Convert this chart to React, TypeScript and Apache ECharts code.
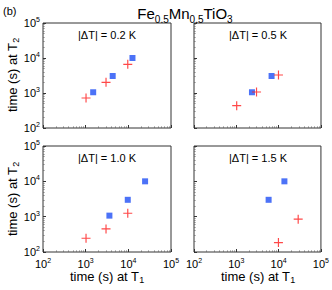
import React, { useEffect, useRef } from "react";
import * as echarts from "echarts";

const xMin = 100;
const xMax = 100000;
const panelLabels = ["|ΔT| = 0.2 K", "|ΔT| = 0.5 K", "|ΔT| = 1.0 K", "|ΔT| = 1.5 K"];

// panel 1 (|ΔT| = 0.2 K)
const p1BlueX = [1500, 4300, 12500];
const p1BlueY = [1050, 3060, 10000];
const p1RedX = [1020, 3000, 9700];
const p1RedY = [720, 2020, 6600];
// panel 2 (|ΔT| = 0.5 K)
const p2BlueX = [2340, 6800];
const p2BlueY = [1050, 3060];
const p2RedX = [1020, 3000, 9900];
const p2RedY = [435, 1070, 3260];
// panel 3 (|ΔT| = 1.0 K)
const p3BlueX = [3600, 9700, 24700];
const p3BlueY = [1070, 3000, 10000];
const p3RedX = [1020, 3000, 9700];
const p3RedY = [245, 450, 1250];
// panel 4 (|ΔT| = 1.5 K)
const p4BlueX = [5800, 13700];
const p4BlueY = [3000, 10000];
const p4RedX = [9900, 29000];
const p4RedY = [185, 850];

const blueX = [p1BlueX, p2BlueX, p3BlueX, p4BlueX];
const blueY = [p1BlueY, p2BlueY, p3BlueY, p4BlueY];
const redX = [p1RedX, p2RedX, p3RedX, p4RedX];
const redY = [p1RedY, p2RedY, p3RedY, p4RedY];

const FONT = "Liberation Sans, Arial, Helvetica, sans-serif";
const CROSS = "path://M4.35,0h1.3v4.35h4.35v1.3h-4.35v4.35h-1.3v-4.35h-4.35v-1.3h4.35z";

const zip = (xs: number[], ys: number[]) => xs.map((x, i) => [x, ys[i]]);

const expOf = (v: number) => Math.round(Math.log10(v));
const rich = {
  b: { fontSize: 11, fontFamily: FONT, color: "#000" },
  s: { fontSize: 7, fontFamily: FONT, color: "#000", padding: [0, 0, 7, 0] },
};

export default function App() {
  const ref = useRef<HTMLDivElement>(null);
  useEffect(() => {
    if (!ref.current) return;
    const chart = echarts.init(ref.current, null, { renderer: "svg" });
    const grids = [
      { left: 43, top: 23, width: 128, height: 105 },
      { left: 194, top: 23, width: 127, height: 105 },
      { left: 43, top: 146, width: 128, height: 106 },
      { left: 194, top: 146, width: 127, height: 106 },
    ].map((g) => ({ ...g, show: true, borderColor: "#333", borderWidth: 1, backgroundColor: "#fff" }));

    const mkAxis = (i: number, isX: boolean) => {
      const showLabel = isX ? i >= 2 : i % 2 === 0;
      return {
        type: "log",
        logBase: 10,
        gridIndex: i,
        min: xMin,
        max: xMax,
        axisLine: { show: false },
        splitLine: { show: false },
        axisTick: { show: true, inside: true, length: 3, lineStyle: { color: "#333" } },
        minorTick: { show: true, splitNumber: 9, length: 1.5, lineStyle: { color: "#777" } },
        axisLabel: {
          show: showLabel,
          margin: isX ? 5 : 3,
          showMinLabel: true,
          showMaxLabel: true,
          formatter: (v: number) => `{b|10}{s|${expOf(v)}}`,
          rich,
        },
      };
    };

    const series: any[] = [];
    for (let i = 0; i < 4; i++) {
      series.push({
        type: "scatter",
        xAxisIndex: i,
        yAxisIndex: i,
        symbol: "rect",
        symbolSize: 6,
        itemStyle: { color: "#1f4ff5" },
        data: zip(blueX[i], blueY[i]),
      });
      series.push({
        type: "scatter",
        xAxisIndex: i,
        yAxisIndex: i,
        symbol: CROSS,
        symbolSize: 9,
        itemStyle: { color: "#ff1a1a" },
        data: zip(redX[i], redY[i]),
      });
    }

    const labelPos = [
      [107, 35],
      [258, 35],
      [107, 158],
      [258, 158],
    ];
    const graphic: any[] = panelLabels.map((t, i) => ({
      type: "text",
      x: labelPos[i][0],
      y: labelPos[i][1],
      style: { text: t, fontSize: 11, fontFamily: FONT, fill: "#000", align: "center", verticalAlign: "middle" },
    }));
    const subRich = {
      m: { fontSize: 13, fontFamily: FONT, color: "#000" },
      u: { fontSize: 9, fontFamily: FONT, color: "#000", padding: [7, 0, 0, 0] },
    };
    // y axis names
    [75, 199].forEach((cy) => {
      graphic.push({
        type: "text",
        x: 12,
        y: cy,
        rotation: Math.PI / 2,
        style: {
          text: "{m|time (s) at T}{u|2}",
          rich: subRich,
          align: "center",
          verticalAlign: "middle",
        },
      });
    });
    // x axis names
    [107, 258].forEach((cx) => {
      graphic.push({
        type: "text",
        x: cx,
        y: 276,
        style: {
          text: "{m|time (s) at T}{u|1}",
          rich: subRich,
          align: "center",
          verticalAlign: "middle",
        },
      });
    });
    // title
    graphic.push({
      type: "text",
      x: 185,
      y: 13,
      style: {
        text: "{m|Fe}{u|0.5}{m|Mn}{u|0.5}{m|TiO}{u|3}",
        rich: {
          m: { fontSize: 15, fontFamily: FONT, color: "#000" },
          u: { fontSize: 10, fontFamily: FONT, color: "#000", padding: [12, 0, 0, 0] },
        },
        align: "center",
        verticalAlign: "middle",
      },
    });
    graphic.push({
      type: "text",
      x: 3,
      y: 11,
      style: { text: "(b)", fontSize: 11, fontFamily: FONT, fill: "#000", verticalAlign: "middle" },
    });

    chart.setOption({
      animation: false,
      backgroundColor: "#fff",
      grid: grids,
      xAxis: [0, 1, 2, 3].map((i) => mkAxis(i, true)),
      yAxis: [0, 1, 2, 3].map((i) => mkAxis(i, false)),
      series,
      graphic,
    });
    return () => chart.dispose();
  }, []);
  return (
    <div
      ref={ref}
      style={{ position: "fixed", left: 0, top: 0, width: 332, height: 290, background: "#fff" }}
    />
  );
}
